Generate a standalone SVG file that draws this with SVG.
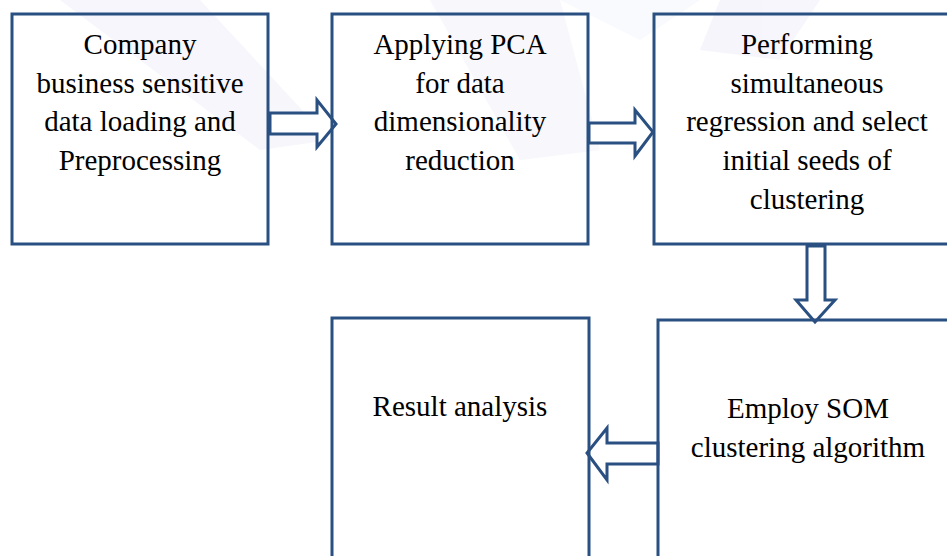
<svg xmlns="http://www.w3.org/2000/svg" width="947" height="556" viewBox="0 0 947 556">
<style>
.box{fill:none;stroke:#2A5082;stroke-width:3}
.arr{fill:#fff;stroke:#2A5082;stroke-width:3;stroke-linejoin:miter}
text{font-family:"Liberation Serif","Times New Roman",serif;font-size:29px;fill:#000;text-anchor:middle}
</style>
<rect width="947" height="556" fill="#fff"/>
<g id="watermark" opacity="0.2">
<path d="M60 0 L200 0 L330 140 L260 150 Z" fill="#d8d4f0"/>
<path d="M430 0 L560 0 L600 150 L520 160 Z" fill="#dcd8f2"/>
<path d="M720 0 L820 0 L780 60 L700 50 Z" fill="#d4d0ee"/>
<path d="M560 0 L700 0 L640 40 Z" fill="#e6eaf6"/>
</g>
<g id="connectors">
<polygon class="arr" points="270,113 317,113 317,100 336,124 317,147 317,134 270,134"/>
<polygon class="arr" points="589,123 635,123 635,110 653,132 635,156 635,143 589,143"/>
<polygon class="arr" points="807,246 825,246 825,300 835,300 815,322 796,300 807,300"/>
<polygon class="arr" points="658,443 607,443 607,428 587,453 607,480 607,464 658,464"/>
</g>
<g id="n1">
<rect class="box" x="12" y="14" width="256" height="230"/>
<text x="140" y="54">Company</text>
<text x="140" y="93">business sensitive</text>
<text x="140" y="131">data loading and</text>
<text x="140" y="170">Preprocessing</text>
</g>
<g id="n2">
<rect class="box" x="332" y="14" width="256" height="230"/>
<text x="460" y="54">Applying PCA</text>
<text x="460" y="93">for data</text>
<text x="460" y="131">dimensionality</text>
<text x="460" y="170">reduction</text>
</g>
<g id="n3">
<rect class="box" x="654" y="14" width="300" height="230"/>
<text x="807" y="54">Performing</text>
<text x="807" y="93">simultaneous</text>
<text x="807" y="131">regression and select</text>
<text x="807" y="170">initial seeds of</text>
<text x="807" y="209">clustering</text>
</g>
<g id="n4">
<rect class="box" x="332" y="318" width="257" height="260"/>
<text x="460" y="416">Result analysis</text>
</g>
<g id="n5">
<rect class="box" x="658" y="320" width="300" height="260"/>
<text x="808" y="418">Employ SOM</text>
<text x="808" y="457">clustering algorithm</text>
</g>
</svg>
